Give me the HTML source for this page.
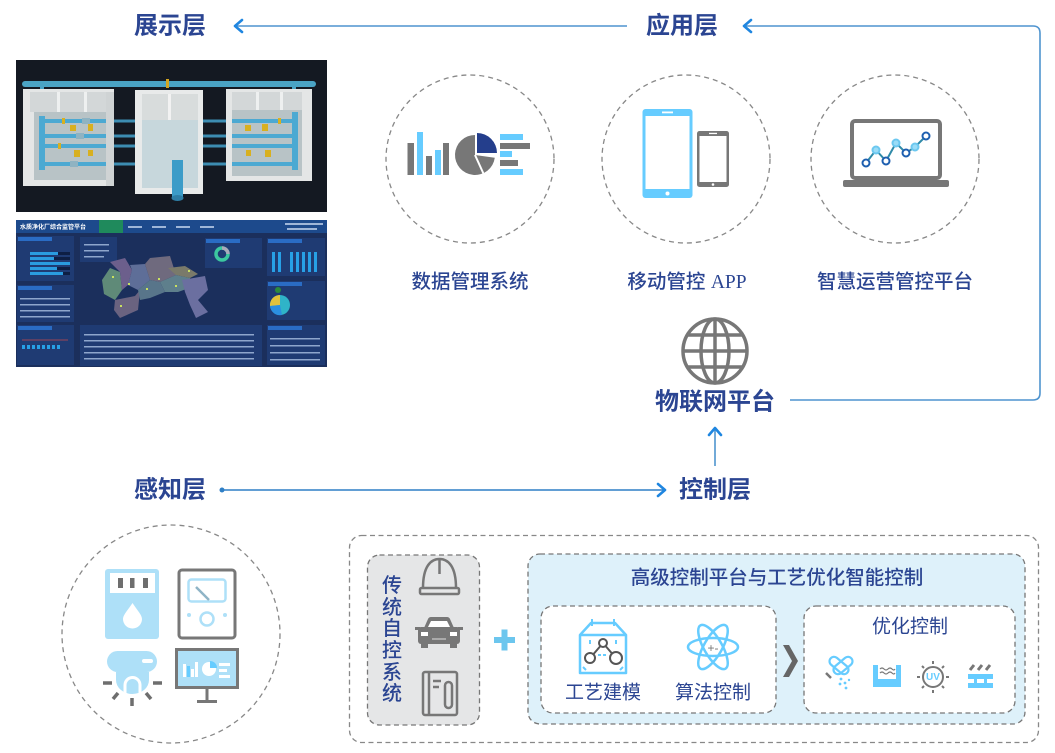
<!DOCTYPE html>
<html><head><meta charset="utf-8"><style>
html,body{margin:0;padding:0;background:#fff;}
svg{display:block;}
text{font-family:"Liberation Sans","Noto Sans CJK SC",sans-serif;}
</style></head><body>
<svg width="1055" height="753" viewBox="0 0 1055 753" xmlns="http://www.w3.org/2000/svg">
<rect width="1055" height="753" fill="#fff"/>

<!-- ===== 3D render ===== -->
<rect x="16" y="60" width="311" height="152" fill="#141922"/>
<rect x="22" y="81" width="294" height="6" rx="3" fill="#4aa3c4"/>
<rect x="40" y="86" width="4" height="8" fill="#4aa3c4"/>
<rect x="292" y="86" width="4" height="8" fill="#4aa3c4"/>
<rect x="166" y="79" width="3" height="9" fill="#d2a520"/>
<!-- left box -->
<rect x="23" y="89" width="91" height="97" fill="#e4e6e6"/>
<rect x="30" y="92" width="78" height="20" fill="#d3d7d8"/>
<rect x="57" y="92" width="3" height="20" fill="#eef0f0"/><rect x="84" y="92" width="3" height="20" fill="#eef0f0"/>
<rect x="34" y="112" width="72" height="68" fill="#b8c3c6"/>
<rect x="106" y="92" width="8" height="94" fill="#cfd3d4"/>
<g stroke="#4ca9d2" stroke-width="4"><line x1="40" y1="121" x2="106" y2="121"/><line x1="40" y1="136" x2="106" y2="136"/><line x1="40" y1="146" x2="106" y2="146"/><line x1="40" y1="164" x2="106" y2="164"/></g>
<rect x="39" y="116" width="6" height="54" fill="#4ca9d2"/>
<g fill="#d8b020"><rect x="70" y="125" width="6" height="6"/><rect x="88" y="124" width="5" height="7"/><rect x="74" y="150" width="6" height="7"/><rect x="88" y="150" width="5" height="6"/><rect x="62" y="118" width="3" height="6"/><rect x="58" y="143" width="3" height="6"/></g>
<g fill="#8fb3c2"><rect x="82" y="118" width="8" height="6"/><rect x="76" y="133" width="8" height="6"/><rect x="70" y="161" width="8" height="6"/></g>
<!-- connecting pipes -->
<g stroke="#3d8db2" stroke-width="3"><line x1="114" y1="121" x2="135" y2="121"/><line x1="114" y1="136" x2="135" y2="136"/><line x1="114" y1="146" x2="135" y2="146"/><line x1="114" y1="164" x2="135" y2="164"/>
<line x1="203" y1="121" x2="226" y2="121"/><line x1="203" y1="136" x2="226" y2="136"/><line x1="203" y1="146" x2="226" y2="146"/><line x1="203" y1="164" x2="226" y2="164"/></g>
<!-- middle box -->
<rect x="135" y="90" width="68" height="104" fill="#e8eaea"/>
<rect x="142" y="94" width="56" height="26" fill="#d8dcdc"/>
<rect x="168" y="94" width="3" height="26" fill="#f2f2f2"/>
<rect x="142" y="120" width="56" height="68" fill="#c7d7dc"/>
<rect x="172" y="160" width="11" height="38" fill="#3c9cc8"/>
<ellipse cx="177.5" cy="198" rx="6" ry="3" fill="#2e7ea6"/>
<!-- right box -->
<rect x="226" y="89" width="86" height="92" fill="#e4e6e6"/>
<rect x="232" y="92" width="70" height="18" fill="#d3d7d8"/>
<rect x="256" y="92" width="3" height="18" fill="#eef0f0"/><rect x="280" y="92" width="3" height="18" fill="#eef0f0"/>
<rect x="232" y="110" width="70" height="66" fill="#b8c3c6"/>
<g stroke="#4ca9d2" stroke-width="4"><line x1="232" y1="121" x2="298" y2="121"/><line x1="232" y1="136" x2="298" y2="136"/><line x1="232" y1="146" x2="298" y2="146"/><line x1="232" y1="164" x2="298" y2="164"/></g>
<rect x="292" y="112" width="6" height="58" fill="#4ca9d2"/>
<g fill="#d8b020"><rect x="262" y="124" width="6" height="7"/><rect x="245" y="125" width="6" height="6"/><rect x="265" y="150" width="6" height="7"/><rect x="246" y="150" width="5" height="6"/><rect x="278" y="118" width="3" height="6"/></g>

<!-- ===== Dashboard ===== -->
<rect x="16" y="220" width="311" height="147" fill="#1b2f5c"/>
<rect x="16" y="220" width="311" height="13" fill="#1d4a8c"/>
<text x="20" y="229" font-size="6" fill="#fff" font-weight="700">水质净化厂综合监管平台</text>
<rect x="99" y="220" width="24" height="13" fill="#1f8a5c"/>
<g fill="#9fb6d8"><rect x="128" y="226" width="14" height="2"/><rect x="152" y="226" width="14" height="2"/><rect x="176" y="226" width="14" height="2"/><rect x="200" y="226" width="14" height="2"/><rect x="285" y="223" width="38" height="2"/><rect x="287" y="228" width="30" height="2"/></g>
<g fill="#1f3b73"><rect x="17" y="236" width="57" height="45"/><rect x="17" y="285" width="57" height="37"/><rect x="17" y="325" width="57" height="40"/>
<rect x="80" y="237" width="37" height="25"/><rect x="205" y="238" width="57" height="30"/>
<rect x="267" y="238" width="58" height="38"/><rect x="267" y="281" width="58" height="39"/><rect x="267" y="325" width="58" height="40"/>
<rect x="80" y="325" width="182" height="41"/></g>
<g fill="#2a6cc4"><rect x="18" y="237" width="34" height="4"/><rect x="18" y="286" width="34" height="4"/><rect x="18" y="326" width="34" height="4"/><rect x="206" y="239" width="34" height="4"/><rect x="268" y="239" width="34" height="4"/><rect x="268" y="282" width="34" height="4"/><rect x="268" y="326" width="34" height="4"/></g>
<g fill="#0e1f44"><rect x="30" y="252" width="40" height="3"/><rect x="30" y="257" width="40" height="3"/><rect x="30" y="262" width="40" height="3"/><rect x="30" y="267" width="40" height="3"/><rect x="30" y="272" width="40" height="3"/></g>
<g fill="#2a9ce0"><rect x="30" y="252" width="28" height="3"/><rect x="30" y="257" width="24" height="3"/><rect x="30" y="262" width="40" height="3"/><rect x="30" y="267" width="27" height="3"/><rect x="30" y="272" width="33" height="3"/></g>
<g fill="#8ea6cc"><rect x="20" y="298" width="50" height="1.5"/><rect x="20" y="304" width="50" height="1.5"/><rect x="20" y="310" width="50" height="1.5"/><rect x="20" y="316" width="50" height="1.5"/><rect x="84" y="244" width="25" height="1.5"/><rect x="84" y="250" width="25" height="1.5"/><rect x="84" y="256" width="20" height="1.5"/>
<rect x="84" y="334" width="170" height="1.5"/><rect x="84" y="340" width="170" height="1.5"/><rect x="84" y="346" width="170" height="1.5"/><rect x="84" y="352" width="170" height="1.5"/><rect x="84" y="358" width="170" height="1.5"/>
<rect x="270" y="338" width="50" height="1.5"/><rect x="270" y="345" width="50" height="1.5"/><rect x="270" y="352" width="50" height="1.5"/><rect x="270" y="359" width="50" height="1.5"/></g>
<g fill="#27a0e6"><rect x="22" y="345" width="3" height="4"/><rect x="27" y="345" width="3" height="4"/><rect x="32" y="345" width="3" height="4"/><rect x="37" y="345" width="3" height="4"/><rect x="42" y="345" width="3" height="4"/><rect x="47" y="345" width="3" height="4"/><rect x="52" y="345" width="3" height="4"/><rect x="57" y="345" width="3" height="4"/></g>
<line x1="22" y1="340" x2="68" y2="340" stroke="#c8484a" stroke-width="0.8"/>
<circle cx="222" cy="254" r="6" fill="none" stroke="#3cc8a0" stroke-width="3.5"/>
<path d="M222,248 A6,6 0 0,1 228,254" fill="none" stroke="#aab" stroke-width="3.5"/>
<g fill="#27a0e6"><rect x="272" y="252" width="3" height="20"/><rect x="278" y="252" width="3" height="20"/><rect x="290" y="252" width="3" height="20"/><rect x="296" y="252" width="3" height="20"/><rect x="302" y="252" width="3" height="20"/><rect x="308" y="252" width="3" height="20"/><rect x="314" y="252" width="3" height="20"/></g>
<circle cx="280" cy="305" r="10" fill="#2fb4c8"/><path d="M280,305 L280,295 A10,10 0 0,0 270,306 Z" fill="#e2c23a"/><path d="M280,305 L270,306 A10,10 0 0,0 282,315 Z" fill="#2b8fe0"/>
<circle cx="278" cy="290" r="3" fill="#2c8a3c"/>
<!-- map -->
<polygon points="102,280 110,268 120,272 122,290 115,300 104,294" fill="#5f8a78"/>
<polygon points="110,262 125,258 132,270 128,285 122,290 120,272" fill="#6c5f8c"/>
<polygon points="130,265 145,264 150,280 138,290 128,285 132,270" fill="#5e6e98"/>
<polygon points="150,258 170,256 176,275 160,282 150,280 145,264" fill="#6f6a7e"/>
<polygon points="160,282 176,275 190,278 192,287 178,292 165,292" fill="#5e7f8c"/>
<polygon points="168,268 185,266 198,274 190,278 176,275" fill="#7a7a6a"/>
<polygon points="182,280 205,276 208,290 198,300 208,312 196,318 190,305 185,292" fill="#6b6fa0"/>
<polygon points="115,300 135,296 140,290 138,310 120,318 114,310" fill="#6a6380"/>
<polygon points="138,290 150,280 160,282 165,292 150,298 140,300" fill="#58758a"/>
<g fill="#c8e060"><rect x="112" y="276" width="2" height="2"/><rect x="128" y="283" width="2" height="2"/><rect x="146" y="288" width="2" height="2"/><rect x="158" y="278" width="2" height="2"/><rect x="175" y="285" width="2" height="2"/><rect x="120" y="305" width="2" height="2"/><rect x="188" y="270" width="2" height="2"/></g>

<!-- ===== connectors ===== -->
<g fill="none" stroke="#4f94cf" stroke-width="1.6">
<line x1="627" y1="26" x2="236" y2="26"/>
<path d="M790,400 H1033 Q1040,400 1040,393 V33 Q1040,26 1033,26 H746"/>
<line x1="715" y1="466" x2="715" y2="430"/>
<line x1="222" y1="490" x2="663" y2="490" stroke="#2f7fc6"/>
</g>
<g fill="none" stroke="#1f86e0" stroke-width="2.6" stroke-linecap="round" stroke-linejoin="round">
<polyline points="242,20 235,26 242,32"/>
<polyline points="751,20 744,26 751,32"/>
<polyline points="709,435 715,428 721,435"/>
<polyline points="658,484 665,490 658,496"/>
</g>
<circle cx="222" cy="490" r="2.5" fill="#2f7fc6"/>

<!-- ===== layer labels ===== -->
<g font-size="24" font-weight="700" fill="#2b4592" text-anchor="middle" dominant-baseline="central">
<text x="170" y="26">展示层</text>
<text x="682" y="26">应用层</text>
<text x="715" y="402">物联网平台</text>
<text x="170" y="490">感知层</text>
<text x="715" y="490">控制层</text>
</g>

<!-- ===== app circles ===== -->
<g fill="none" stroke="#888" stroke-width="1.3" stroke-dasharray="5 4">
<circle cx="470" cy="159" r="84"/>
<circle cx="686" cy="159" r="84"/>
<circle cx="895" cy="159" r="84"/>
<circle cx="171" cy="634" r="109"/>
</g>
<g font-size="19.5" font-weight="500" fill="#2b4592" text-anchor="middle" dominant-baseline="central">
<text x="470" y="282">数据管理系统</text>
<text x="687" y="282">移动管控 <tspan font-family="Liberation Serif, serif">APP</tspan></text>
<text x="895" y="282">智慧运营管控平台</text>
</g>
<!-- circle1 icon -->
<g fill="#777"><rect x="407.5" y="143" width="6.5" height="32"/><rect x="426" y="156" width="6" height="19"/><rect x="443" y="143" width="6" height="32"/></g>
<g fill="#66ccff"><rect x="417" y="132" width="6" height="43"/><rect x="435" y="150" width="6" height="25"/></g>
<path d="M475,155 L494.8,157.8 A20,20 0 1,1 475,135 Z" fill="#777"/>
<path d="M477,153 L477,133 A20,20 0 0,1 497,153 Z" fill="#243e8c"/>
<line x1="475" y1="155" x2="485" y2="177" stroke="#fff" stroke-width="2"/>
<rect x="500" y="134" width="23" height="6" fill="#66ccff"/>
<rect x="500" y="143" width="30" height="6" fill="#777"/>
<rect x="500" y="151" width="12" height="6" fill="#66ccff"/>
<rect x="500" y="160" width="18" height="6" fill="#777"/>
<rect x="500" y="169" width="23" height="6" fill="#66ccff"/>
<!-- circle2 icon -->
<rect x="642.5" y="109" width="50" height="89" rx="3" fill="#66ccff"/>
<rect x="645.5" y="116" width="44" height="73" fill="#fff"/>
<rect x="662" y="111.5" width="11" height="1.8" fill="#fff"/>
<circle cx="667.5" cy="193.5" r="2" fill="#fff"/>
<rect x="697" y="131" width="32" height="56" rx="2.5" fill="#777"/>
<rect x="699.5" y="136" width="27" height="46" fill="#fff"/>
<rect x="709" y="132.8" width="8" height="1.3" fill="#fff"/>
<circle cx="713" cy="184.5" r="1.3" fill="#fff"/>
<!-- circle3 icon -->
<rect x="852" y="121" width="88" height="57" rx="3" fill="#fff" stroke="#777" stroke-width="4"/>
<rect x="843" y="180" width="106" height="7" rx="2" fill="#777"/>
<polyline points="866,163 876,150 886,161 896,143 906,153 915,147 926,136" fill="none" stroke="#2f8aa8" stroke-width="2"/>
<g stroke-width="2"><circle cx="866" cy="163" r="3.5" fill="#fff" stroke="#1e5fb0"/><circle cx="876" cy="150" r="3.5" fill="#9adcf7" stroke="#6cc8f0"/><circle cx="886" cy="161" r="3.5" fill="#fff" stroke="#1e5fb0"/><circle cx="896" cy="143" r="3.5" fill="#9adcf7" stroke="#6cc8f0"/><circle cx="906" cy="153" r="3.5" fill="#fff" stroke="#1e5fb0"/><circle cx="915" cy="147" r="3.5" fill="#9adcf7" stroke="#6cc8f0"/><circle cx="926" cy="136" r="3.5" fill="#fff" stroke="#1e5fb0"/></g>
<!-- globe -->
<g fill="none" stroke="#777" stroke-width="3.5">
<circle cx="715" cy="351" r="32"/>
<ellipse cx="715" cy="351" rx="14" ry="32"/>
<line x1="715" y1="319" x2="715" y2="383"/>
<line x1="687" y1="335" x2="743" y2="335"/>
<line x1="683" y1="351" x2="747" y2="351"/>
<line x1="687" y1="367" x2="743" y2="367"/>
</g>

<!-- ===== sensing icons ===== -->
<rect x="105" y="569" width="54" height="70" rx="3" fill="#aee0f8"/>
<rect x="110" y="573" width="45" height="20" fill="#fff"/>
<g fill="#6e6e6e"><rect x="118" y="578" width="5" height="10"/><rect x="130" y="578" width="4.5" height="10"/><rect x="143" y="578" width="5" height="10"/></g>
<path d="M132.5,603 C128,610 123,615 123,619 A9.5,9.5 0 0,0 142,619 C142,615 137,610 132.5,603Z" fill="#fff"/>
<rect x="179" y="570" width="56" height="68" rx="3" fill="#fff" stroke="#777" stroke-width="3"/>
<rect x="188.5" y="579.5" width="37" height="22" rx="3" fill="none" stroke="#aee0f8" stroke-width="2.5"/>
<line x1="196" y1="587" x2="209" y2="600" stroke="#8fb4c6" stroke-width="2.5"/>
<circle cx="207" cy="619" r="6.5" fill="none" stroke="#aee0f8" stroke-width="2.5"/>
<circle cx="189" cy="615" r="2" fill="#aee0f8"/><circle cx="225" cy="615" r="2" fill="#aee0f8"/>
<rect x="107" y="651" width="50" height="21" rx="10.5" fill="#aee0f8"/>
<rect x="142" y="659" width="11" height="4" rx="2" fill="#fff"/>
<path d="M116,672 H149 V680 A16.5,14 0 0 1 116,680 Z" fill="#aee0f8"/>
<path d="M125,693 V685 A7.5,7.5 0 0 1 140,685 V693" fill="#aee0f8" stroke="#fff" stroke-width="3"/>
<g stroke="#6e6e6e" stroke-width="3.5">
<line x1="103" y1="683" x2="112" y2="683"/><line x1="153" y1="683" x2="162" y2="683"/>
<line x1="113" y1="699" x2="118" y2="693"/><line x1="146" y1="693" x2="151" y2="699"/>
<line x1="132" y1="698" x2="132" y2="706"/></g>
<rect x="176.5" y="649.5" width="61" height="38" fill="#aee0f8" stroke="#777" stroke-width="3"/>
<rect x="205.5" y="688" width="3" height="13" fill="#777"/>
<rect x="197" y="700" width="20" height="3" fill="#777"/>
<g fill="#fff"><rect x="183" y="664" width="3" height="13"/><rect x="191" y="669" width="3" height="8"/><rect x="195" y="662" width="3" height="15"/>
<rect x="219" y="663" width="11" height="3"/><rect x="219" y="669" width="8" height="3"/><rect x="219" y="675" width="11" height="3"/></g>
<rect x="187" y="666" width="3" height="11" fill="#66ccff"/>
<circle cx="209" cy="669" r="7" fill="#fff"/>
<path d="M210,668 L210,661 A7,7 0 0,1 217,668 Z" fill="#66ccff"/>

<!-- ===== control box ===== -->
<rect x="349.5" y="535.5" width="689" height="207" rx="12" fill="none" stroke="#888" stroke-width="1.3" stroke-dasharray="5 3.5"/>
<rect x="367.5" y="555" width="112" height="170" rx="12" fill="#e5e6e7" stroke="#777" stroke-width="1.3" stroke-dasharray="5 3.5"/>
<rect x="528" y="554" width="497" height="170" rx="12" fill="#def1fa" stroke="#777" stroke-width="1.3" stroke-dasharray="5 3.5"/>
<rect x="541" y="606" width="235" height="107" rx="12" fill="#fff" stroke="#777" stroke-width="1.3" stroke-dasharray="5 3.5"/>
<rect x="804" y="606" width="211" height="107" rx="12" fill="#fff" stroke="#777" stroke-width="1.3" stroke-dasharray="5 3.5"/>
<g font-size="20" font-weight="500" fill="#2b4592" text-anchor="middle" dominant-baseline="central">
<text x="392" y="586">传</text><text x="392" y="608">统</text><text x="392" y="629">自</text><text x="392" y="651">控</text><text x="392" y="673">系</text><text x="392" y="694">统</text>
</g>
<g font-size="19.5" font-weight="500" fill="#2b4592" text-anchor="middle" dominant-baseline="central">
<text x="777" y="578">高级控制平台与工艺优化智能控制</text>
</g>
<g font-size="19" fill="#2b4592" text-anchor="middle" dominant-baseline="central">
<text x="603" y="693">工艺建模</text>
<text x="713" y="693">算法控制</text>
<text x="910" y="627">优化控制</text>
</g>
<!-- helmet -->
<g fill="none" stroke="#777" stroke-width="2.5" stroke-linejoin="round">
<path d="M423,588 C423,566 431,559 439.5,559 C448,559 456,566 456,588"/>
<rect x="420" y="588" width="39" height="6" rx="1.5"/>
<line x1="439.5" y1="560" x2="439.5" y2="574"/>
</g>
<!-- car -->
<path d="M424,628 L428,619 Q429,617 431,617 H447 Q449,617 450,619 L454,628 Z" fill="#777"/>
<path d="M428,627 L431,621 H447 L450,627 Z" fill="#fff"/>
<rect x="418" y="627" width="42" height="17" rx="3" fill="#777"/>
<rect x="415" y="627" width="5" height="3" fill="#777"/><rect x="458" y="627" width="5" height="3" fill="#777"/>
<rect x="421" y="632" width="7" height="4" fill="#fff"/><rect x="450" y="632" width="7" height="4" fill="#fff"/>
<rect x="432" y="638" width="14" height="2" fill="#aaa"/>
<rect x="421" y="643" width="7" height="5" fill="#777"/><rect x="450" y="643" width="7" height="5" fill="#777"/>
<!-- notebook -->
<g fill="none" stroke="#777" stroke-width="2.5">
<rect x="423" y="672" width="34" height="43" rx="2"/>
<line x1="429" y1="672" x2="429" y2="715"/>
<line x1="433" y1="681" x2="441" y2="681"/><line x1="433" y1="687" x2="439" y2="687"/>
<rect x="445" y="682" width="7" height="26" rx="3.5"/>
</g>
<!-- plus -->
<rect x="494" y="637" width="21" height="6" fill="#6cc6ee"/>
<rect x="501.5" y="629.5" width="6" height="21" fill="#6cc6ee"/>
<!-- process modeling icon -->
<g fill="none" stroke="#66ccff" stroke-width="2.5" stroke-linejoin="round">
<path d="M580,635 L591,623 H615 L626,635 V673 H580 Z"/>
<line x1="580" y1="635" x2="626" y2="635"/>
</g>
<g stroke="#66ccff" stroke-width="2"><line x1="592" y1="619" x2="592" y2="626"/><line x1="614" y1="619" x2="614" y2="626"/>
<line x1="590" y1="640" x2="590" y2="644"/><line x1="616" y1="640" x2="616" y2="644"/><line x1="598" y1="655" x2="608" y2="655" stroke-dasharray="3 2"/>
<line x1="583" y1="667" x2="586" y2="670"/><line x1="623" y1="667" x2="620" y2="670"/></g>
<g fill="#fff" stroke="#555" stroke-width="2">
<line x1="603" y1="643" x2="591" y2="657"/><line x1="603" y1="643" x2="615" y2="657"/>
<circle cx="603" cy="643" r="4"/><circle cx="590" cy="658" r="5"/><circle cx="616" cy="658" r="6"/></g>
<!-- atom -->
<g fill="none" stroke="#66ccff" stroke-width="2.5">
<ellipse cx="713" cy="647" rx="25" ry="9" transform="rotate(60 713 647)"/>
<ellipse cx="713" cy="647" rx="25" ry="9" transform="rotate(-60 713 647)"/>
<ellipse cx="713" cy="647" rx="25" ry="9"/>
</g>
<text x="713" y="648" font-size="12" fill="#777" text-anchor="middle" dominant-baseline="central">+-</text>
<!-- chevron -->
<polygon points="783,645 789,645 798,661 789,677 783,677 792,661" fill="#666"/>
<!-- capsule -->
<g fill="none" stroke="#66ccff" stroke-width="2.2">
<rect x="828" y="661" width="22" height="9" rx="4.5" transform="rotate(40 839 665.5)"/>
<rect x="832" y="661" width="22" height="9" rx="4.5" transform="rotate(-40 843 665.5)"/>
</g>
<line x1="826" y1="673" x2="831" y2="678" stroke="#777" stroke-width="2.5"/>
<g fill="#66ccff"><circle cx="841" cy="679" r="1.4"/><circle cx="845" cy="683" r="1.4"/><circle cx="840" cy="684" r="1.4"/><circle cx="846" cy="688" r="1.4"/><circle cx="849" cy="680" r="1.2"/></g>
<!-- tank -->
<rect x="873" y="665" width="28" height="22" fill="#66ccff"/>
<rect x="878" y="665" width="18" height="14" fill="#fff"/>
<g fill="none" stroke="#777" stroke-width="1.2"><path d="M880,669 q2,-2 4,0 t4,0 t4,0 t3,0"/><path d="M880,673 q2,-2 4,0 t4,0 t4,0 t3,0"/></g>
<!-- UV -->
<circle cx="933" cy="677" r="10" fill="#fff" stroke="#777" stroke-width="2"/>
<text x="933" y="677.5" font-size="10" font-weight="700" fill="#66ccff" text-anchor="middle" dominant-baseline="central">UV</text>
<g stroke="#777" stroke-width="2"><line x1="933" y1="661" x2="933" y2="664"/><line x1="933" y1="690" x2="933" y2="693"/><line x1="917" y1="677" x2="920" y2="677"/><line x1="946" y1="677" x2="949" y2="677"/>
<line x1="922" y1="666" x2="924" y2="668"/><line x1="942" y1="686" x2="944" y2="688"/><line x1="944" y1="666" x2="942" y2="668"/><line x1="924" y1="686" x2="922" y2="688"/></g>
<!-- panel -->
<g stroke="#777" stroke-width="3"><line x1="970" y1="670" x2="974" y2="665"/><line x1="978" y1="670" x2="982" y2="665"/><line x1="986" y1="670" x2="990" y2="665"/></g>
<g fill="#66ccff"><rect x="968" y="674" width="25" height="5"/><rect x="968" y="683" width="25" height="5"/><rect x="974" y="679" width="3" height="4"/><rect x="984" y="679" width="3" height="4"/></g>
</svg>
</body></html>
